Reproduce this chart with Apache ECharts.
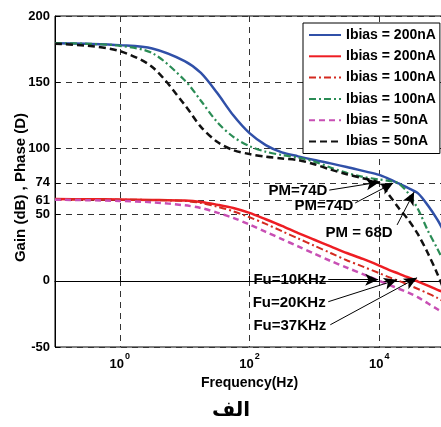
<!DOCTYPE html>
<html>
<head>
<meta charset="utf-8">
<script src="https://cdn.jsdelivr.net/npm/echarts@6/dist/echarts.min.js"></script>
<style>html,body{margin:0;padding:0;background:#fff}#c{width:441px;height:427px}</style>
</head>
<body>
<div id="c"></div>
<script>
// Frequencies (Hz) at which the curves were read
const freqHz = [0.1, 0.316, 1, 3.16, 10, 17.8, 31.6, 56.2, 100, 178, 316, 562, 1000, 1780, 3160, 5620, 10000, 14100, 20000, 28200, 39800, 56200, 79400, 100000];
// Phase curves (degrees)
const phase200 = [179.5, 179, 178, 175.5, 166, 157, 142, 125, 111.5, 102.5, 97, 94, 91.2, 88.7, 86, 83, 80, 77, 73.5, 70, 66, 57, 46, 37];
const phase100 = [179.5, 179, 177.5, 172, 151.5, 136, 120, 108.7, 101.7, 97.5, 95, 93, 90, 85.5, 81.5, 78.5, 76.5, 75.5, 73.5, 66, 54, 38, 24, 14];
const phase50  = [179, 177.5, 173.5, 161.5, 133, 116.3, 105, 98.7, 95.7, 93.7, 92.4, 91.2, 88, 84, 80.5, 77.5, 74, 65, 55, 46, 35, 21, 5, -7];
// Gain curves (dB)
const gain200 = [61.7, 61.6, 61.4, 61.1, 60.6, 59.6, 57.5, 55, 51.3, 46.5, 41.5, 36, 31, 26, 21, 16.5, 11.5, 8.3, 5.4, 2.5, -0.6, -3.7, -6.8, -8.7];
const gain100 = [61.5, 61.4, 61.3, 61, 60.3, 58.8, 56, 52.5, 48, 43, 37.5, 32, 26.5, 21, 15.5, 10.7, 5.8, 2.8, 0, -3, -6.2, -9.5, -13, -16];
const gain50  = [61.2, 60.9, 60.3, 59.3, 57, 55, 51.5, 47.5, 42.5, 37, 31.5, 26, 20.5, 15, 10, 5, 0, -3, -6, -9, -12.5, -17, -21.5, -24.5];
// Axis ticks
const yTicks = [-50, 0, 50, 61, 74, 100, 150, 200];
const xTicks = [1, 100, 10000];
// Legend labels
const legendNames = ['Ibias = 200nA', 'Ibias = 200nA ', 'Ibias = 100nA', 'Ibias = 100nA ', 'Ibias = 50nA', 'Ibias = 50nA '];
// Annotations: [text, textFreq, textValue, align, arrowFromFreq, arrowFromValue, arrowToFreq, arrowToValue]
const annotations = [
  ['PM=74D', 1585, 67.8, 'right', 1700, 68.5, 10000, 74.5],
  ['PM=74D', 3980, 56.5, 'right', 4270, 58.8, 16500, 73.8],
  ['PM = 68D', 4900, 36.2, 'center', 18900, 42.2, 34600, 67],
  ['Fu=10KHz', 115, 0.8, 'left', 1640, 0.8, 9660, 0.8],
  ['Fu=20KHz', 112, -16.6, 'left', 1640, -15.8, 18900, 0.8],
  ['Fu=37KHz', 115, -33.9, 'left', 1763, -33.2, 38400, 2.3]
];

const FONT = 'Liberation Sans';
const pair = arr => freqHz.map((f, i) => [f, arr[i]]);
function mk(name, data, color, type, width) {
  return {
    name: name, type: 'line', data: pair(data), symbol: 'none', smooth: 0.3,
    lineStyle: { color: color, type: type, width: width }, itemStyle: { color: color },
    z: 3
  };
}
const series = [
  mk(legendNames[0], phase200, '#3050a8', 'solid', 2.5),
  mk(legendNames[1], gain200, '#ee1d23', 'solid', 2.5),
  mk(legendNames[2], gain100, '#d42a20', [7, 3, 2, 3], 2),
  mk(legendNames[3], phase100, '#2a8c55', [7, 3, 2, 3], 2.2),
  mk(legendNames[4], gain50, '#c84fb4', [6, 4], 2.5),
  mk(legendNames[5], phase50, '#111111', [7, 4], 2.5)
];
series.push({
  name: 'annot', type: 'line', data: [], symbol: 'none', z: 5,
  markLine: {
    silent: true, animation: false,
    symbol: ['none', 'arrow'], symbolSize: [9, 13],
    label: { show: false },
    lineStyle: { color: '#000', type: 'solid', width: 1 },
    data: annotations.map(a => [{ coord: [a[4], a[5]] }, { coord: [a[6], a[7]] }])
  },
  markPoint: {
    silent: true, animation: false,
    symbol: 'circle', symbolSize: 0,
    data: annotations.map(a => ({
      coord: [a[1], a[2]],
      label: {
        show: true, position: [0, 0], formatter: a[0], align: a[3], verticalAlign: 'middle',
        fontFamily: FONT, fontWeight: 'bold', fontSize: 15, color: '#000'
      }
    }))
  }
});

const chart = echarts.init(document.getElementById('c'), null, { renderer: 'canvas' });
chart.setOption({
  animation: false,
  backgroundColor: '#fff',
  grid: { left: 55, top: 16, right: -3, bottom: 80, show: true, borderColor: '#000', borderWidth: 1, backgroundColor: 'transparent', outerBoundsMode: 'none', containLabel: false },
  legend: {
    data: legendNames, orient: 'vertical', left: 303, top: 23,
    backgroundColor: '#fff', borderColor: '#000', borderWidth: 1,
    padding: [5, 4, 5, 5], itemWidth: 32, itemHeight: 14, itemGap: 7.3,
    itemStyle: { opacity: 0 },
    formatter: n => n.trim(),
    textStyle: { fontFamily: FONT, fontWeight: 'bold', fontSize: 14, color: '#000' }
  },
  xAxis: {
    type: 'log', logBase: 10, min: 0.1, max: 100000,
    name: 'Frequency(Hz)', nameLocation: 'middle', nameGap: 29, nameMoveOverlap: false,
    nameTextStyle: { fontFamily: FONT, fontWeight: 'bold', fontSize: 14, color: '#000' },
    axisLine: { lineStyle: { color: '#000', width: 1 } },
    axisTick: { show: true, inside: true, length: 5, customValues: xTicks, lineStyle: { color: '#000' } },
    axisLabel: {
      customValues: xTicks, margin: 5, color: '#000',
      formatter: v => '{b|10}{s|' + Math.round(Math.log10(v)) + '}',
      rich: {
        b: { fontFamily: FONT, fontWeight: 'bold', fontSize: 13, color: '#000', padding: [6, 0, 0, 0] },
        s: { fontFamily: FONT, fontWeight: 'bold', fontSize: 9, color: '#000', verticalAlign: 'top', padding: [0, 0, 0, 1] }
      }
    },
    minorTick: { show: false },
    splitLine: { show: true, lineStyle: { color: '#333', type: [6, 5], width: 1 } }
  },
  yAxis: {
    type: 'value', min: -50, max: 200,
    name: 'Gain (dB) , Phase (D)', nameLocation: 'middle', nameGap: 27, nameMoveOverlap: false,
    nameTextStyle: { fontFamily: FONT, fontWeight: 'bold', fontSize: 15, color: '#000', padding: [0, 12, 0, 0] },
    axisLine: { show: true, lineStyle: { color: '#000', width: 1 } },
    axisTick: { show: true, inside: true, length: 5, customValues: yTicks, lineStyle: { color: '#000' } },
    axisLabel: { customValues: yTicks, margin: 5, fontFamily: FONT, fontWeight: 'bold', fontSize: 13, color: '#000' },
    splitLine: { show: true, lineStyle: { color: '#333', type: [6, 5], width: 1 } }
  },
  graphic: [{
    type: 'text', x: 231, y: 411,
    style: { text: 'الف', fontFamily: 'DejaVu Sans', fontWeight: 'bold', fontSize: 20, fill: '#000', align: 'center', verticalAlign: 'middle' }
  }],
  series: series
});
</script>
</body>
</html>
